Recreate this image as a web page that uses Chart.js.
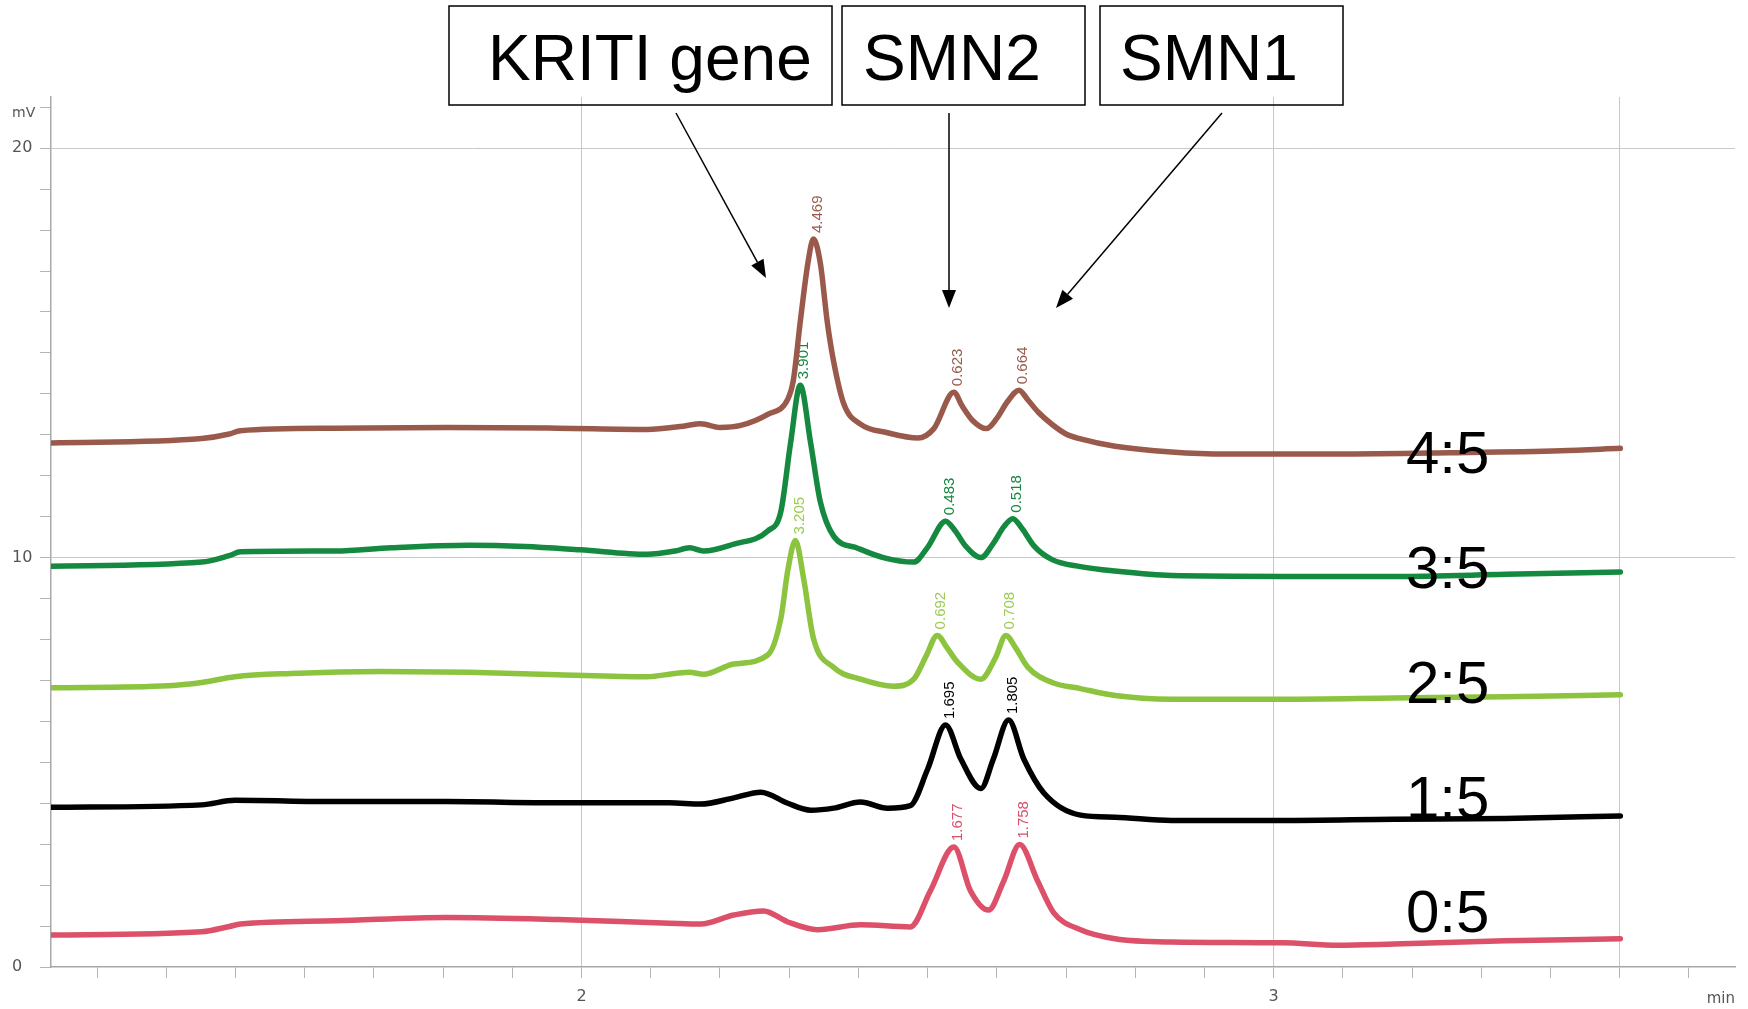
<!DOCTYPE html>
<html>
<head>
<meta charset="utf-8">
<script src="https://cdn.jsdelivr.net/npm/chart.js@4"></script>
<style>
  html, body { margin: 0; padding: 0; background: #fff; }
  #wrap { width: 1748px; height: 1009px; position: relative; }
</style>
</head>
<body>
<div id="wrap"><canvas id="chromChart"></canvas></div>
<script>
// dilution traces, top to bottom
const samples = ['4:5', '3:5', '2:5', '1:5', '0:5'];
const lineColors = ['#9a5a4b', '#14893f', '#8dc43f', '#000000', '#dc5069'];
const textColors = ['#9a5a4b', '#14893f', '#9ccc52', '#000000', '#d9506a'];

// retention time (min) / signal (mV)
const time45 = [1.2335, 1.451, 1.491, 1.507, 1.644, 1.805, 1.966, 2.095, 2.147, 2.172, 2.2, 2.23, 2.269, 2.298, 2.306, 2.316, 2.327, 2.335, 2.345, 2.355, 2.364, 2.379, 2.403, 2.442, 2.486, 2.509, 2.538, 2.55, 2.565, 2.585, 2.6, 2.615, 2.632, 2.645, 2.66, 2.68, 2.7, 2.721, 2.771, 2.852, 2.932, 3.093, 3.254, 3.415, 3.501];
const mv45 = [12.80, 12.91, 13.02, 13.10, 13.16, 13.18, 13.16, 13.13, 13.21, 13.27, 13.18, 13.23, 13.50, 13.87, 14.33, 15.76, 17.19, 17.78, 17.19, 15.76, 14.81, 13.75, 13.26, 13.05, 12.92, 13.15, 14.04, 13.70, 13.35, 13.15, 13.40, 13.80, 14.09, 13.85, 13.55, 13.25, 13.02, 12.90, 12.72, 12.58, 12.53, 12.53, 12.56, 12.61, 12.67];

const time35 = [1.2335, 1.451, 1.491, 1.507, 1.644, 1.725, 1.837, 1.918, 1.998, 2.095, 2.135, 2.156, 2.176, 2.22, 2.269, 2.288, 2.302, 2.316, 2.331, 2.345, 2.364, 2.399, 2.436, 2.48, 2.5, 2.526, 2.54, 2.555, 2.577, 2.595, 2.61, 2.623, 2.637, 2.653, 2.68, 2.721, 2.771, 2.852, 3.013, 3.174, 3.335, 3.501];
const mv35 = [9.79, 9.89, 10.05, 10.14, 10.16, 10.24, 10.30, 10.27, 10.19, 10.08, 10.16, 10.24, 10.16, 10.33, 10.65, 11.13, 12.80, 14.21, 12.80, 11.36, 10.53, 10.23, 10.00, 9.89, 10.25, 10.89, 10.65, 10.28, 10.00, 10.35, 10.75, 10.95, 10.70, 10.30, 9.95, 9.78, 9.67, 9.56, 9.54, 9.54, 9.59, 9.65];

const time25 = [1.2335, 1.403, 1.451, 1.499, 1.58, 1.709, 1.837, 1.966, 2.095, 2.135, 2.156, 2.176, 2.22, 2.269, 2.288, 2.298, 2.309, 2.321, 2.335, 2.364, 2.403, 2.451, 2.48, 2.498, 2.514, 2.528, 2.543, 2.577, 2.598, 2.613, 2.627, 2.645, 2.68, 2.721, 2.771, 2.852, 3.013, 3.174, 3.335, 3.501];
const mv25 = [6.82, 6.87, 6.95, 7.09, 7.17, 7.22, 7.20, 7.14, 7.09, 7.17, 7.20, 7.15, 7.40, 7.62, 8.52, 9.69, 10.42, 9.47, 8.03, 7.32, 7.03, 6.86, 7.03, 7.60, 8.10, 7.80, 7.45, 7.03, 7.55, 8.10, 7.80, 7.32, 6.95, 6.80, 6.63, 6.54, 6.54, 6.57, 6.60, 6.65];

const time15 = [1.2335, 1.451, 1.499, 1.644, 1.805, 1.966, 2.127, 2.172, 2.22, 2.259, 2.298, 2.331, 2.364, 2.403, 2.442, 2.475, 2.5, 2.526, 2.548, 2.577, 2.595, 2.617, 2.639, 2.668, 2.721, 2.771, 2.852, 3.013, 3.174, 3.335, 3.501];
const mv15 = [3.90, 3.96, 4.07, 4.04, 4.04, 4.01, 4.01, 3.98, 4.13, 4.27, 4.00, 3.83, 3.88, 4.03, 3.88, 3.94, 4.83, 5.91, 5.08, 4.36, 5.08, 6.03, 5.08, 4.25, 3.71, 3.66, 3.58, 3.58, 3.61, 3.63, 3.69];

const time05 = [1.2335, 1.451, 1.491, 1.507, 1.644, 1.805, 1.966, 2.127, 2.172, 2.22, 2.263, 2.298, 2.341, 2.403, 2.475, 2.504, 2.538, 2.562, 2.588, 2.61, 2.633, 2.659, 2.682, 2.721, 2.771, 2.852, 3.013, 3.093, 3.174, 3.335, 3.501];
const mv05 = [0.78, 0.86, 0.99, 1.05, 1.13, 1.21, 1.16, 1.07, 1.05, 1.27, 1.37, 1.10, 0.91, 1.03, 0.98, 1.86, 2.93, 1.86, 1.39, 2.10, 2.99, 2.10, 1.33, 0.91, 0.69, 0.61, 0.59, 0.53, 0.56, 0.64, 0.69];

// peak annotations printed by the integrator
const peakTime45 = [2.335, 2.538, 2.632];
const peakText45 = ['4.469', '0.623', '0.664'];
const peakTime35 = [2.316, 2.526, 2.623];
const peakText35 = ['3.901', '0.483', '0.518'];
const peakTime25 = [2.309, 2.514, 2.613];
const peakText25 = ['3.205', '0.692', '0.708'];
const peakTime15 = [2.526, 2.617];
const peakText15 = ['1.695', '1.805'];
const peakTime05 = [2.538, 2.633];
const peakText05 = ['1.677', '1.758'];

const geneNames = ['KRITI gene', 'SMN2', 'SMN1'];

const times = [time45, time35, time25, time15, time05];
const values = [mv45, mv35, mv25, mv15, mv05];
const peakTimes = [peakTime45, peakTime35, peakTime25, peakTime15, peakTime05];
const peakTexts = [peakText45, peakText35, peakText25, peakText15, peakText05];

const datasets = samples.map((name, i) => ({
  label: name,
  data: times[i].map((t, k) => ({ x: t, y: values[i][k] })),
  borderColor: lineColors[i],
  borderWidth: 5.5,
  pointRadius: 0,
  fill: false,
  cubicInterpolationMode: 'monotone',
  borderJoinStyle: 'round',
  borderCapStyle: 'round'
}));

const decorations = {
  id: 'decorations',
  beforeDatasetsDraw(chart) {
    const ctx = chart.ctx;
    const xs = chart.scales.x, ys = chart.scales.y;
    ctx.save();
    ctx.font = '15px "Liberation Sans", Arial, sans-serif';
    ctx.textAlign = 'left';
    ctx.textBaseline = 'middle';
    peakTimes.forEach((list, i) => {
      list.forEach((pt, j) => {
        let best = 0;
        times[i].forEach((t, k) => { if (Math.abs(t - pt) < Math.abs(times[i][best] - pt)) best = k; });
        const px = xs.getPixelForValue(times[i][best]);
        const py = ys.getPixelForValue(values[i][best]);
        ctx.save();
        ctx.translate(px + 4, py - 6);
        ctx.rotate(-Math.PI / 2);
        ctx.fillStyle = textColors[i];
        ctx.fillText(peakTexts[i][j], 0, 0);
        ctx.restore();
      });
    });
    ctx.restore();
  },
  afterDraw(chart) {
    const ctx = chart.ctx;
    ctx.save();
    // axis units
    ctx.fillStyle = '#555';
    ctx.textBaseline = 'middle';
    ctx.textAlign = 'left';
    ctx.font = '14px "DejaVu Sans", sans-serif';
    ctx.fillText('mV', 12, 113);
    ctx.textAlign = 'right';
    ctx.font = '15px "DejaVu Sans", sans-serif';
    ctx.fillText('min', 1735, 999);

    // gene boxes and arrows
    const boxes = [[449, 6, 383, 99], [842, 6, 243, 99], [1100, 6, 243, 99]];
    const textX = [488, 863, 1120];
    const arrows = [[676, 113, 766, 278], [949, 113, 949, 308], [1222, 113, 1056, 308]];
    ctx.strokeStyle = '#000';
    ctx.fillStyle = '#000';
    ctx.lineWidth = 1.5;
    ctx.font = '64px "Liberation Sans", Arial, sans-serif';
    ctx.textAlign = 'left';
    ctx.textBaseline = 'alphabetic';
    geneNames.forEach((g, i) => {
      const b = boxes[i];
      ctx.strokeRect(b[0], b[1], b[2], b[3]);
      ctx.fillText(g, textX[i], 80);
      const a = arrows[i];
      const ang = Math.atan2(a[3] - a[1], a[2] - a[0]);
      const hl = 18, hw = 7;
      const bx = a[2] - hl * Math.cos(ang), by = a[3] - hl * Math.sin(ang);
      ctx.beginPath();
      ctx.moveTo(a[0], a[1]);
      ctx.lineTo(bx, by);
      ctx.stroke();
      ctx.beginPath();
      ctx.moveTo(a[2], a[3]);
      ctx.lineTo(bx + hw * Math.sin(ang), by - hw * Math.cos(ang));
      ctx.lineTo(bx - hw * Math.sin(ang), by + hw * Math.cos(ang));
      ctx.closePath();
      ctx.fill();
    });

    // dilution ratio labels
    const ratioY = [473, 588, 703, 818, 932];
    ctx.font = '60px "Liberation Sans", Arial, sans-serif';
    samples.forEach((s, i) => ctx.fillText(s, 1406, ratioY[i]));
    ctx.restore();
  }
};

function xGrid(v) {
  const d = Math.round(v * 10);
  return (d === 20 || d === 30 || d === 35) ? '#c8c8c8' : 'rgba(0,0,0,0)';
}

new Chart(document.getElementById('chromChart'), {
  type: 'line',
  data: { datasets: datasets },
  options: {
    responsive: true,
    maintainAspectRatio: false,
    animation: false,
    layout: { padding: { left: 12, right: 13, top: 97, bottom: 0 } },
    plugins: { legend: { display: false }, tooltip: { enabled: false } },
    scales: {
      x: {
        type: 'linear',
        min: 1.2333,
        max: 3.6667,
        afterFit: s => { s.height = 42; },
        ticks: {
          stepSize: 0.1,
          includeBounds: false,
          autoSkip: false,
          maxRotation: 0,
          padding: 9,
          color: '#555',
          font: { family: 'DejaVu Sans', size: 16 },
          callback: v => Math.abs(v - Math.round(v)) < 1e-6 ? String(Math.round(v)) : ''
        },
        grid: { color: c => xGrid(c.tick.value), tickColor: '#b4b4b4', tickLength: 11, lineWidth: 1 },
        border: { color: '#a8a8a8', width: 1.5 }
      },
      y: {
        min: 0,
        max: 21.25,
        afterFit: s => { s.width = 39; },
        ticks: {
          stepSize: 1,
          includeBounds: false,
          autoSkip: false,
          crossAlign: 'far',
          color: '#555',
          font: { family: 'DejaVu Sans', size: 16 },
          callback: v => (v % 10 === 0) ? String(v) : ''
        },
        grid: {
          color: c => (c.tick.value === 10 || c.tick.value === 20) ? '#c8c8c8' : 'rgba(0,0,0,0)',
          tickColor: '#b4b4b4',
          tickLength: 11,
          lineWidth: 1
        },
        border: { color: '#a8a8a8', width: 1.5 }
      }
    }
  },
  plugins: [decorations]
});
</script>
</body>
</html>
